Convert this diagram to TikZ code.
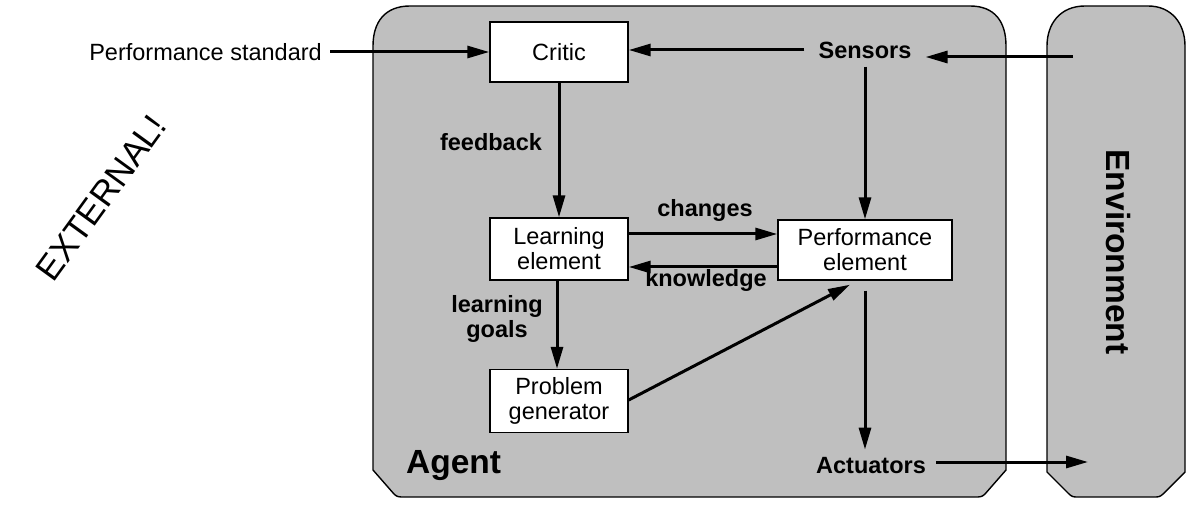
\documentclass[tikz,border=0pt]{standalone}
\usepackage{fontspec}
\setmainfont{Liberation Sans}
\usetikzlibrary{arrows.meta,calc}
\definecolor{agentgray}{RGB}{191,191,191}
\tikzset{
  panel/.style={draw=black,line width=1.4pt,fill=agentgray},
  compbox/.style={draw=black,line width=1.4pt,fill=white,align=center,
    font=\fontsize{23.5}{25}\selectfont,inner sep=2pt},
  lbl/.style={font=\fontsize{23.5}{25}\selectfont\bfseries,align=center,inner sep=0pt},
  plain/.style={font=\fontsize{23.5}{25}\selectfont,inner sep=0pt},
  arr/.style={line width=3pt,-{Triangle[length=22pt,width=12pt]}},
}
\begin{document}
\begin{tikzpicture}[x=1pt,y=-1pt]
\useasboundingbox (0,0) rectangle (1200,505);
% Agent panel
\draw[panel] (410,6) -- (970,6) .. controls (995,6) and (1006,22) .. (1006,46)
  -- (1006,470) -- (985,494) .. controls (982,497) and (980,497) .. (975,497)
  -- (404,497) .. controls (399,497) and (397,497) .. (394,494)
  -- (373,470) -- (373,46) .. controls (373,22) and (385,6) .. (410,6) -- cycle;
% Environment panel
\draw[panel] (1085,6) -- (1148,6) .. controls (1172,6) and (1185,24) .. (1185,46)
  -- (1185,472) -- (1163,494) .. controls (1160,497) and (1158,497) .. (1154,497)
  -- (1078,497) .. controls (1074,497) and (1072,497) .. (1069,494)
  -- (1047,472) -- (1047,46) .. controls (1047,24) and (1060,6) .. (1085,6) -- cycle;
\node[font=\fontsize{33.5}{35}\selectfont\bfseries,rotate=-90] (env) at (1118,252) {Environment};
\node[font=\fontsize{33.5}{35}\selectfont\bfseries,anchor=west,inner sep=0pt] (agent) at (406,466) {Agent};
% components
\node[compbox,minimum width=138pt,minimum height=60pt] (critic) at (559,52) {Critic};
\node[compbox,minimum width=138pt,minimum height=62pt] (learn) at (559,249) {Learning\\element};
\node[compbox,minimum width=174pt,minimum height=60pt] (perf) at (865,250) {Performance\\element};
\node[compbox,minimum width=138pt,minimum height=63pt] (prob) at (559,401) {Problem\\generator};
% text nodes
\node[plain,anchor=east] (ps) at (322,52) {Performance standard};
\node[lbl,inner xsep=14pt,inner ysep=8pt] (sensors) at (865,50) {Sensors};
\node[lbl,inner xsep=10pt,inner ysep=8pt] (act) at (871,466) {Actuators};
\node[lbl] (fb) at (491,142) {feedback};
\node[lbl] (ch) at (705,210) {changes};
\node[lbl] (kn) at (706,280) {knowledge};
\node[lbl] (lg) at (497,319) {learning\\goals};
\node[font=\fontsize{35}{37}\selectfont,rotate=54] (ext) at (101,198) {EXTERNAL!};
% connectors
\coordinate (envin) at (1073,57);
\coordinate (envout) at (1088,462);
\draw[arr] ([xshift=8pt]ps.east) -- (critic.west);
\draw[arr] (sensors.west) -- (sensors.west -| critic.east);
\draw[arr] (envin) -- (envin -| sensors.east);
\draw[arr] (sensors.south) -- (perf.north);
\draw[arr] (critic.south) -- (learn.north);
\draw[arr] ([xshift=-2pt]learn.south) -- ([xshift=-2pt]prob.north);
\draw[arr] ([yshift=15pt]learn.east) -- ([yshift=15pt]learn.east -| perf.west);
\draw[arr] ([yshift=-17pt]perf.west) -- ([yshift=-17pt]perf.west -| learn.east);
\draw[arr] ([yshift=1pt]prob.east) -- ([xshift=-15pt,yshift=-4pt]perf.south);
\draw[arr,shorten <=10pt] (perf.south) -- (perf.south |- act.north);
\draw[arr] ([yshift=4pt]act.east) -- (envout);
\end{tikzpicture}
\end{document}
